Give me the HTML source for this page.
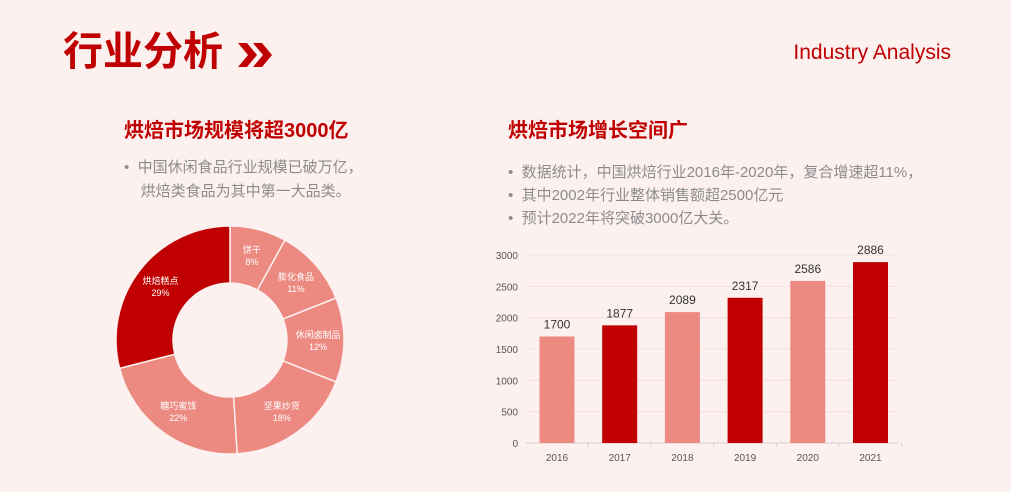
<!DOCTYPE html>
<html><head><meta charset="utf-8"><style>
html,body{margin:0;padding:0}
body{width:1011px;height:492px;background:#fdf1f0;position:relative;overflow:hidden;font-family:"Liberation Sans","Noto Sans CJK SC",sans-serif}
.a{position:absolute;white-space:nowrap}
.t{left:63px;top:28px;font-size:40px;font-weight:bold;color:#c00000;line-height:48px}
.en{right:60px;top:41px;font-size:21px;color:#c00000}
.h{font-size:20px;font-weight:bold;color:#c00000;line-height:26px}
.b{font-size:15px;color:#8c8c8c;line-height:23px}
</style></head><body>
<div class="a t">行业分析</div>
<svg class="a" style="left:236px;top:40px" width="40" height="30" viewBox="0 0 40 30"><path d="M2 3h9l10 12-10 12H2l10-12z M17 3h9l10 12-10 12h-9l10-12z" fill="#c00000"/></svg>
<div class="a en">Industry Analysis</div>
<div class="a h" style="left:124px;top:118px">烘焙市场规模将超3000亿</div>
<div class="a b" style="left:124px;top:156px;line-height:24px">•&nbsp; 中国休闲食品行业规模已破万亿，<br>&nbsp;&nbsp;&nbsp; 烘焙类食品为其中第一大品类。</div>
<div class="a h" style="left:508px;top:118px">烘焙市场增长空间广</div>
<div class="a b" style="left:508px;top:161px">•&nbsp; 数据统计，中国烘焙行业2016年-2020年，复合增速超11%，<br>•&nbsp; 其中2002年行业整体销售额超2500亿元<br>•&nbsp; 预计2022年将突破3000亿大关。</div>
<svg id="d" class="a" style="left:0;top:0" width="1011" height="492"></svg>
<script>
var s=document.getElementById('d'),h='';
var cx=230,cy=340,R=114,r=57,data=[['饼干',8],['膨化食品',11],['休闲卤制品',12],['坚果炒货',18],['糖巧蜜饯',22],['烘焙糕点',29]];
var a0=0;
function p(rad,a){return [cx+rad*Math.sin(a),cy-rad*Math.cos(a)];}
data.forEach(function(d,i){var a1=a0+d[1]/100*2*Math.PI;var A=p(R,a0),B=p(R,a1),C=p(r,a1),D=p(r,a0),l=(a1-a0)>Math.PI?1:0;
h+='<path d="M'+A+' A'+R+','+R+' 0 '+l+' 1 '+B+' L'+C+' A'+r+','+r+' 0 '+l+' 0 '+D+'Z" fill="'+(i==5?'#c00000':'#ec8a82')+'" stroke="#fdf1f0" stroke-width="1.5"/>';
var m=p(88,(a0+a1)/2);h+='<text x="'+m[0]+'" y="'+(m[1]-2)+'" font-size="9" fill="#fff" text-anchor="middle">'+d[0]+'</text><text x="'+m[0]+'" y="'+(m[1]+10)+'" font-size="9" fill="#fff" text-anchor="middle">'+d[1]+'%</text>';a0=a1;});
var y0=443,k=188/3000;
for(var v=0;v<=3000;v+=500){var y=y0-v*k;h+='<line x1="526" x2="898" y1="'+y+'" y2="'+y+'" stroke="'+(v?'#f3dedc':'#d9cfce')+'"/><text x="518" y="'+(y+4)+'" font-size="10" fill="#555" text-anchor="end">'+v+'</text>';}
var vals=[1700,1877,2089,2317,2586,2886];
vals.forEach(function(v,i){var c=557+i*62.7,y=y0-v*k;h+='<rect x="'+(c-17.5)+'" y="'+y+'" width="35" height="'+(v*k)+'" fill="'+(i%2?'#c00000':'#ec8a82')+'"/><text x="'+c+'" y="'+(y-8)+'" font-size="12" fill="#333" text-anchor="middle">'+v+'</text><text x="'+c+'" y="461" font-size="10" fill="#555" text-anchor="middle">'+(2016+i)+'</text><line x1="'+(c+31.3)+'" x2="'+(c+31.3)+'" y1="443" y2="447" stroke="#d9cfce"/>';});
s.innerHTML=h;
</script>
</body></html>
